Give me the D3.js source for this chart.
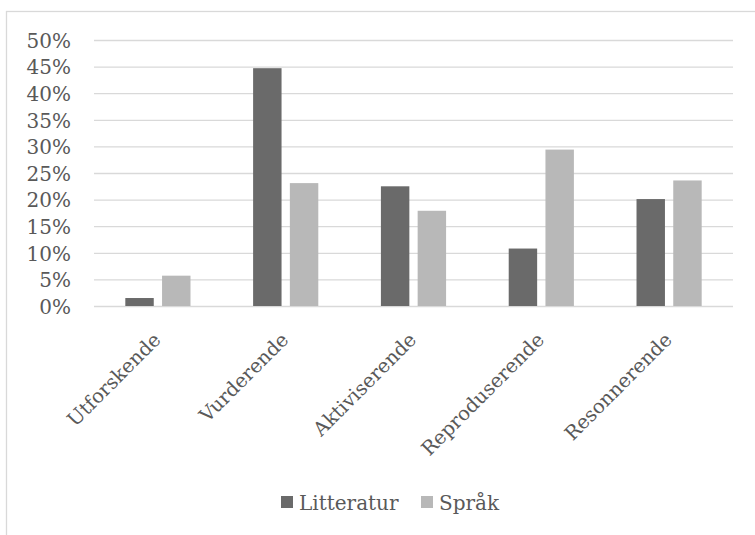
<!DOCTYPE html>
<html>
<head>
<meta charset="utf-8">
<script src="https://cdn.jsdelivr.net/npm/d3@7"></script>
<style>
  html, body { margin: 0; padding: 0; background: #ffffff; }
  svg { display: block; }
  text { font-family: "DejaVu Serif", serif; fill: #595959; }
</style>
</head>
<body>
<svg id="chart" width="755" height="535"></svg>
<script>
// Question types and the share of each within the two subjects
const categories = ["Utforskende", "Vurderende", "Aktiviserende", "Reproduserende", "Resonnerende"];
const seriesNames = ["Litteratur", "Språk"];
const litteratur = [1.5, 44.7, 22.5, 10.8, 20.1];
const spraak = [5.7, 23.1, 17.9, 29.4, 23.6];
const yTicks = [0, 5, 10, 15, 20, 25, 30, 35, 40, 45, 50];
const colors = ["#6a6a6a", "#b8b8b8"];

const seriesValues = [litteratur, spraak];
const rows = categories.map((c, i) => ({
  category: c,
  values: seriesNames.map((s, k) => ({ series: s, value: seriesValues[k][i], k }))
}));

const svg = d3.select("#chart");

// outer frame
svg.append("rect")
  .attr("x", 6.5).attr("y", 11.5)
  .attr("width", 760).attr("height", 540)
  .attr("fill", "none").attr("stroke", "#d9d9d9").attr("stroke-width", 1.3);

const plot = { left: 94, right: 733, top: 40, bottom: 306 };

const y = d3.scaleLinear().domain([0, 50]).range([plot.bottom, plot.top]);
const x0 = d3.scaleBand().domain(categories).range([plot.left, plot.right])
  .paddingInner(0.49).paddingOuter(0.245);
const x1 = d3.scaleBand().domain(seriesNames).range([0, x0.bandwidth()]).paddingInner(0.226);

// gridlines
const yAxis = d3.axisLeft(y).tickValues(yTicks).tickFormat(d => d + "%")
  .tickSize(-(plot.right - plot.left)).tickPadding(23);
const gy = svg.append("g").attr("transform", `translate(${plot.left},0)`).call(yAxis);
gy.select(".domain").remove();
gy.selectAll(".tick line").attr("stroke", "#d9d9d9").attr("stroke-width", 1.3);
gy.selectAll(".tick text")
  .attr("font-size", 20).attr("fill", "#595959").attr("dy", "0.36em");

// bars
const groups = svg.append("g").selectAll("g").data(rows).join("g")
  .attr("transform", d => `translate(${x0(d.category)},0)`);
groups.selectAll("rect").data(d => d.values).join("rect")
  .attr("x", d => x1(d.series))
  .attr("y", d => y(d.value))
  .attr("width", x1.bandwidth())
  .attr("height", d => y(0) - y(d.value))
  .attr("fill", d => colors[d.k]);

// rotated category labels
const xAxis = d3.axisBottom(x0).tickSize(0).tickPadding(0);
const gx = svg.append("g").attr("transform", `translate(0,${plot.bottom})`).call(xAxis);
gx.select(".domain").remove();
gx.selectAll(".tick text")
  .attr("font-size", 19.5)
  .attr("fill", "#595959")
  .attr("text-anchor", "end")
  .attr("dy", null)
  .attr("y", null)
  .attr("transform", "translate(4,35) rotate(-45)");

// legend
const legend = svg.append("g");
const legendX = [281, 421];
seriesNames.forEach((s, k) => {
  legend.append("rect")
    .attr("x", legendX[k]).attr("y", 496)
    .attr("width", 12).attr("height", 12)
    .attr("fill", colors[k]);
  legend.append("text")
    .attr("x", legendX[k] + 18).attr("y", 510)
    .attr("font-size", 20)
    .text(s);
});
</script>
</body>
</html>
